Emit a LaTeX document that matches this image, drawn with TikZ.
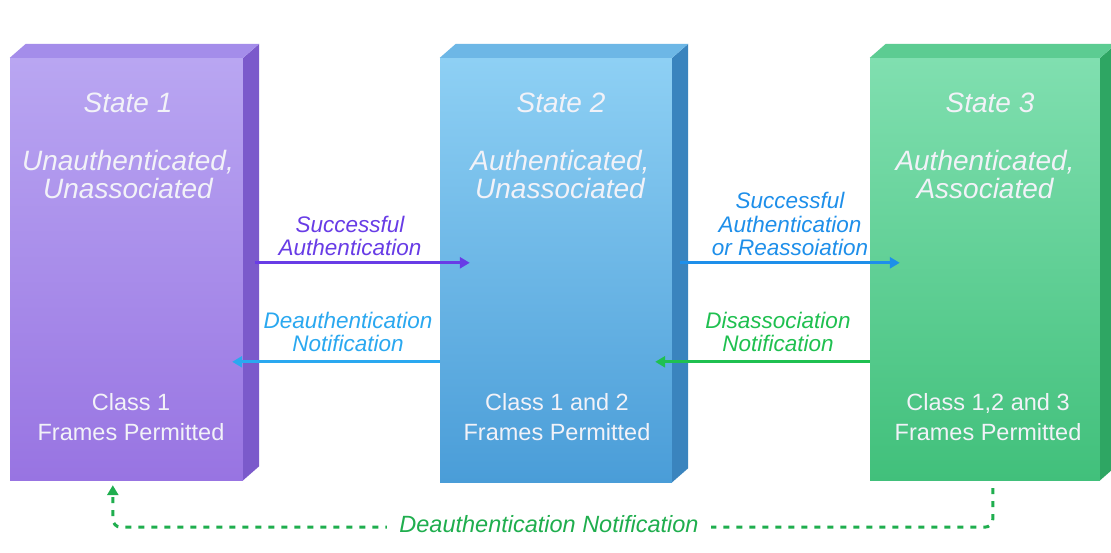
\documentclass[tikz,border=0pt]{standalone}
\usepackage{fontspec}
\setmainfont{Liberation Sans}
\usetikzlibrary{calc,arrows.meta}
\definecolor{pTop}{HTML}{B9A6F2}
\definecolor{pBot}{HTML}{9874E2}
\definecolor{pSide}{HTML}{7B5ACB}
\definecolor{pLid}{HTML}{A48DEA}
\definecolor{bTop}{HTML}{8ED0F4}
\definecolor{bBot}{HTML}{4A9DD8}
\definecolor{bSide}{HTML}{3A84BE}
\definecolor{bLid}{HTML}{6DB7E6}
\definecolor{gTop}{HTML}{80DFB0}
\definecolor{gBot}{HTML}{41C07B}
\definecolor{gSide}{HTML}{2EA663}
\definecolor{gLid}{HTML}{5CCC92}
\definecolor{cPurple}{HTML}{683CE6}
\definecolor{cCyan}{HTML}{2AA8F0}
\definecolor{cBlue}{HTML}{1E8FEA}
\definecolor{cGreen}{HTML}{1FC050}
\definecolor{cDGreen}{HTML}{1FAE4E}
\definecolor{txtW}{HTML}{F2F2F8}
\tikzset{
  front/.style={draw=none,inner sep=0pt},
  head/.style={align=center,text=txtW,font=\fontsize{28}{28}\selectfont\itshape},
  cls/.style={align=center,text=txtW,font=\fontsize{23.5}{30}\selectfont},
  lbl/.style={align=center,font=\fontsize{22.5}{23.5}\selectfont\itshape},
  arr/.style={line width=3pt,-{Triangle[length=10pt,width=11pt]}},
}
\newcommand{\boxthreed}[3]{%
  \fill[#2] (#1.north east) -- ++(16,-14) -- ($(#1.south east)+(16,-14)$) -- (#1.south east) -- cycle;
  \fill[#3] (#1.north west) -- ++(16,-14) -- ($(#1.north east)+(16,-14)$) -- (#1.north east) -- cycle;
}
\begin{document}
\begin{tikzpicture}[x=1pt,y=-1pt]
\useasboundingbox (0,0) rectangle (1111,552);
\fill[white] (0,0) rectangle (1111,552);

% boxes
\node[front,minimum width=233pt,minimum height=422pt,top color=pTop,bottom color=pBot] (b1) at (126.5,269) {};
\node[front,minimum width=232pt,minimum height=424pt,top color=bTop,bottom color=bBot] (b2) at (556,270) {};
\node[front,minimum width=230pt,minimum height=422pt,top color=gTop,bottom color=gBot] (b3) at (985,269) {};
\boxthreed{b1}{pSide}{pLid}
\boxthreed{b2}{bSide}{bLid}
\boxthreed{b3}{gSide}{gLid}

% box texts
\node[head] (s1) at (128,103) {State 1};
\node[head] (d1) at (128,174) {Unauthenticated,\\Unassociated};
\node[cls] (c1) at (131,417) {Class 1\\Frames Permitted};
\node[head] (s2) at (561,103) {State 2};
\node[head] (d2) at (560,174) {Authenticated,\\Unassociated};
\node[cls] (c2) at (557,417) {Class 1 and 2\\Frames Permitted};
\node[head] (s3) at (990,103) {State 3};
\node[head] (d3) at (985,174) {Authenticated,\\Associated};
\node[cls] (c3) at (988,417) {Class 1,2 and 3\\Frames Permitted};

% arrow labels
\node[lbl,text=cPurple] (l1) at (350,236) {Successful\\Authentication};
\node[lbl,text=cCyan] (l2) at (348,332) {Deauthentication\\Notification};
\node[lbl,text=cBlue] (l3) at (790,224) {Successful\\Authentication\\or Reassoiation};
\node[lbl,text=cGreen] (l4) at (778,332) {Disassociation\\Notification};

% arrows
\draw[arr,cPurple] ($(b1.north east)+(12,205)$) -- ($(b2.north west)+(30,205)$);
\draw[arr,cCyan] ($(b2.north west)+(0,304)$) -- ($(b1.north east)+(-11,304)$);
\draw[arr,cBlue] ($(b2.north east)+(8,205)$) -- ($(b3.north west)+(30,205)$);
\draw[arr,cGreen] ($(b3.north west)+(0,304)$) -- ($(b2.north east)+(-17,304)$);

% bottom dashed return
\coordinate (ds) at ($(b3.south west)+(123,8)$);
\coordinate (de) at ($(b1.south west)+(103,5)$);
\draw[line width=3pt,cDGreen,dash pattern=on 6pt off 7pt,rounded corners=8pt,-{Triangle[length=10pt,width=11pt]}]
  (ds) -- ++(0,39) -| (de);
\node[lbl,text=cDGreen,fill=white,inner xsep=12pt,font=\fontsize{23.5}{24}\selectfont\itshape] (l5) at (549,524) {Deauthentication Notification};
\end{tikzpicture}
\end{document}
